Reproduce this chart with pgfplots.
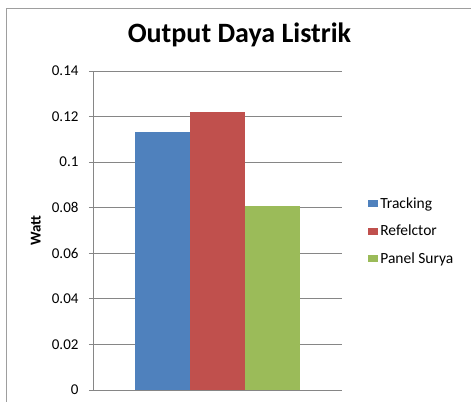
\documentclass[border=0pt]{standalone}
\usepackage{pgfplots}
\pgfplotsset{compat=1.18}
\usepackage{fontspec}
\setmainfont{Carlito}
\definecolor{cblue}{HTML}{4F81BD}
\definecolor{cred}{HTML}{C0504D}
\definecolor{cgreen}{HTML}{9BBB59}
\definecolor{gridgray}{HTML}{868686}
\begin{document}
\begin{tikzpicture}
\useasboundingbox (0,0) rectangle (471bp,402bp);
\draw[gridgray!80,line width=0.8bp] (6bp,0) -- (6bp,394bp) -- (471bp,394bp);
\begin{axis}[
  at={(93bp,12bp)}, anchor=south west,
  scale only axis, width=249bp, height=319bp,
  xmin=-1, xmax=1, ymin=0, ymax=0.14,
  ybar=0pt, bar width=55bp,
  xtick=\empty,
  ytick={0,0.02,0.04,0.06,0.08,0.1,0.12,0.14},
  yticklabels={0,0.02,0.04,0.06,0.08,0.1,0.12,0.14},
  /pgf/number format/assume math mode=true,
  yticklabel style={font=\fontsize{15bp}{17bp}\selectfont, text=black, xshift=-7bp},
  tick align=outside, major tick length=4bp,
  tick style={gridgray, line width=0.8bp},
  ymajorgrids, major grid style={gridgray, line width=0.8bp},
  axis x line*=bottom, axis y line*=left,
  axis line style={draw=gridgray, line width=0.8bp, -},
  title={Output Daya Listrik},
  title style={at={(axis description cs:0.588,1.095)}, anchor=center, font=\bfseries\fontsize{28bp}{32bp}\selectfont},
  ylabel={Watt},
  every axis y label/.style={at={(axis description cs:-0.23,0.5)}, rotate=90, anchor=center, font=\bfseries\fontsize{15bp}{17bp}\selectfont},
  legend style={at={(axis description cs:1.105,0.498)}, anchor=west, draw=none, fill=none, inner sep=0pt,
    font=\fontsize{15.5bp}{18bp}\selectfont, row sep=11bp,
    nodes={inner xsep=2bp}},
  legend cell align=left,
  legend image code/.code={\fill[#1,draw=none] (0bp,-3.5bp) rectangle (10bp,3.5bp);},
]
\addplot[fill=cblue, draw=none] coordinates {(0,0.1132)};
\addplot[fill=cred, draw=none] coordinates {(0,0.122)};
\addplot[fill=cgreen, draw=none] coordinates {(0,0.0808)};
\legend{Tracking,Refelctor,Panel Surya}
\end{axis}
\end{tikzpicture}
\end{document}
